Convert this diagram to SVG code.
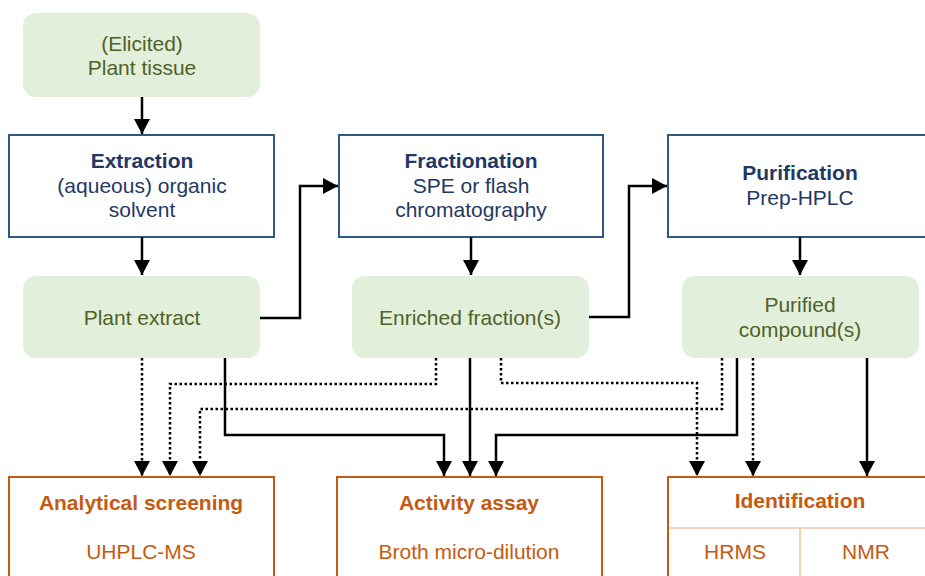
<svg xmlns="http://www.w3.org/2000/svg" width="925" height="576" viewBox="0 0 925 576">
<defs>
<marker id="ah" viewBox="0 0 15 16" refX="15" refY="8" markerWidth="15" markerHeight="16" markerUnits="userSpaceOnUse" orient="auto">
<path d="M0,0 L15,8 L0,16 z" fill="#000"/>
</marker>
<style>
text{font-family:"Liberation Sans",Arial,sans-serif;font-size:21px;text-anchor:middle}
.g rect{fill:#e2efda;stroke:none}
.g text{fill:#4f6228}
.b rect{fill:#fff;stroke:#2e5985;stroke-width:2}
.b text{fill:#1f3864}
.o rect{fill:#fff;stroke:#c55a11;stroke-width:2}
.o text{fill:#c55a11}
.o line{stroke:#f0c3a3;stroke-width:1.5}
.bold{font-weight:bold}
.c path{fill:none;stroke:#000;stroke-width:2.5;marker-end:url(#ah)}
.c path.d{stroke-dasharray:2.5 2.5}
</style>
</defs>
<rect width="925" height="576" fill="#fff"/>

<g id="plant-tissue" class="g">
<rect x="23" y="13" width="237" height="84" rx="13"/>
<text x="142" y="51">(Elicited)</text>
<text x="142" y="75">Plant tissue</text>
</g>
<g id="extraction" class="b">
<rect x="9" y="135" width="265" height="102"/>
<text x="142" y="168" class="bold">Extraction</text>
<text x="142" y="193">(aqueous) organic</text>
<text x="142" y="217">solvent</text>
</g>
<g id="fractionation" class="b">
<rect x="339" y="135" width="264" height="102"/>
<text x="471" y="168" class="bold">Fractionation</text>
<text x="471" y="193">SPE or flash</text>
<text x="471" y="217">chromatography</text>
</g>
<g id="purification" class="b">
<rect x="668" y="135" width="270" height="102"/>
<text x="800" y="180" class="bold">Purification</text>
<text x="800" y="205">Prep-HPLC</text>
</g>
<g id="plant-extract" class="g">
<rect x="23" y="276" width="237" height="82" rx="13"/>
<text x="142" y="325">Plant extract</text>
</g>
<g id="enriched" class="g">
<rect x="352" y="276" width="237" height="82" rx="13"/>
<text x="470" y="325">Enriched fraction(s)</text>
</g>
<g id="purified" class="g">
<rect x="682" y="276" width="237" height="82" rx="13"/>
<text x="800" y="312">Purified</text>
<text x="800" y="337">compound(s)</text>
</g>
<g id="analytical" class="o">
<rect x="9" y="477" width="265" height="120"/>
<text x="141" y="510" class="bold">Analytical screening</text>
<text x="141" y="559">UHPLC-MS</text>
</g>
<g id="activity" class="o">
<rect x="337" y="477" width="265" height="120"/>
<text x="469" y="510" class="bold">Activity assay</text>
<text x="469" y="559">Broth micro-dilution</text>
</g>
<g id="identification" class="o">
<rect x="668" y="477" width="270" height="120"/>
<line x1="669" y1="528" x2="937" y2="528"/>
<line x1="800" y1="528" x2="800" y2="576"/>
<text x="800" y="508" class="bold">Identification</text>
<text x="735" y="559">HRMS</text>
<text x="866" y="559">NMR</text>
</g>

<g id="connectors" class="c">
<path d="M142,97 V134"/>
<path d="M142,237 V275"/>
<path d="M471,237 V275"/>
<path d="M800,237 V275"/>
<path d="M260,318 H300 V186 H338"/>
<path d="M589,317 H629 V186 H667"/>
<path class="d" d="M142,358 V476"/>
<path class="d" d="M436,358 V384 H170 V476"/>
<path class="d" d="M722,358 V409 H200 V476"/>
<path d="M225,358 V435 H444 V476"/>
<path d="M470,358 V476"/>
<path d="M737,358 V435 H496 V476"/>
<path class="d" d="M501,358 V383 H697 V476"/>
<path class="d" d="M753,358 V476"/>
<path d="M867,358 V476"/>
</g>
</svg>
